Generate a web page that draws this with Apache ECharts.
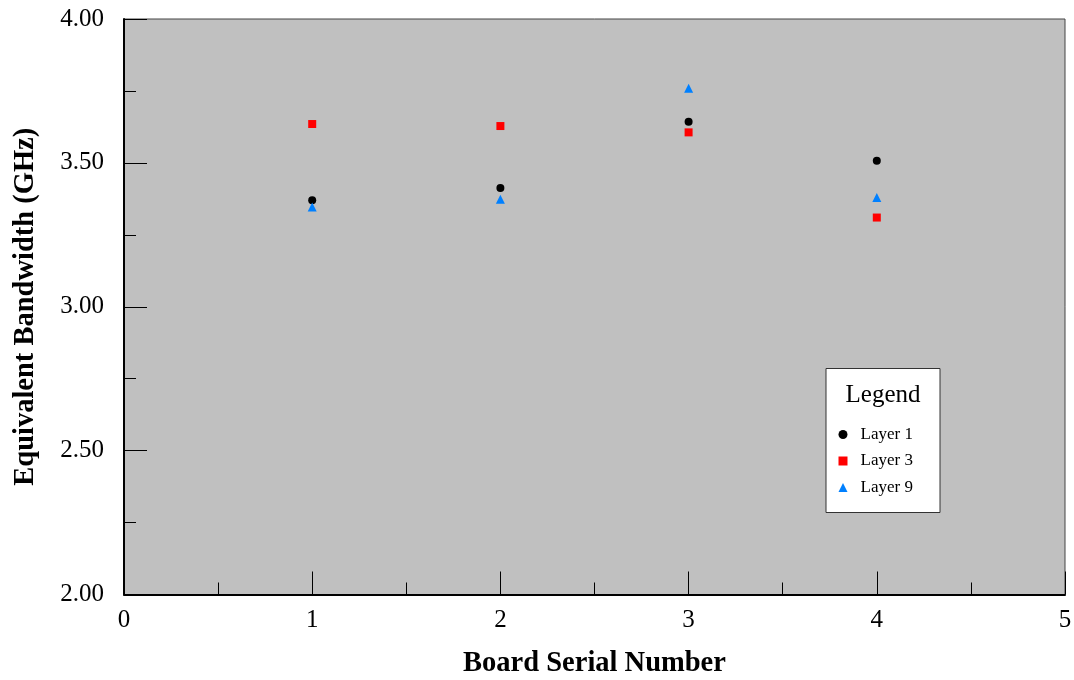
<!DOCTYPE html>
<html>
<head>
<meta charset="utf-8">
<script src="https://cdn.jsdelivr.net/npm/echarts@6/dist/echarts.min.js"></script>
<style>html,body{margin:0;padding:0;background:#fff;}#c{width:1074px;height:680px;}</style>
</head>
<body>
<div id="c"></div>
<script>
const boards = [1, 2, 3, 4];
const layer1 = [3.370, 3.413, 3.643, 3.507];
const layer3 = [3.635, 3.628, 3.606, 3.310];
const layer9 = [3.347, 3.374, 3.759, 3.380];
const seriesNames = ['Layer 1', 'Layer 3', 'Layer 9'];

const font = 'Liberation Serif';
const chart = echarts.init(document.getElementById('c'));
const pts = arr => boards.map((b, i) => [b, arr[i]]);

chart.setOption({
  animation: false,
  backgroundColor: '#ffffff',
  grid: {
    left: 124, right: 9, top: 19, bottom: 85.5,
    outerBoundsMode: 'none', containLabel: false,
    show: true, backgroundColor: '#c0c0c0', borderColor: '#444', borderWidth: 1
  },
  xAxis: {
    type: 'value', min: 0, max: 5, interval: 1,
    name: 'Board Serial Number', nameLocation: 'middle', nameGap: 55,
    nameTextStyle: { fontFamily: font, fontWeight: 'bold', fontSize: 28.5, color: '#000' },
    axisLine: { show: true, lineStyle: { color: '#000', width: 2 } },
    axisTick: { show: true, inside: true, length: 23, lineStyle: { color: '#000', width: 1 } },
    minorTick: { show: true, splitNumber: 2, length: 12, lineStyle: { color: '#000', width: 1 } },
    axisLabel: { fontFamily: font, fontSize: 25, color: '#000', margin: 13 },
    splitLine: { show: false }
  },
  yAxis: {
    type: 'value', min: 2, max: 4, interval: 0.5,
    name: 'Equivalent Bandwidth (GHz)', nameLocation: 'middle', nameGap: 84,
    nameTextStyle: { fontFamily: font, fontWeight: 'bold', fontSize: 28.5, color: '#000' },
    axisLine: { show: true, lineStyle: { color: '#000', width: 2 } },
    axisTick: { show: true, inside: true, length: 23, lineStyle: { color: '#000', width: 1 } },
    minorTick: { show: true, splitNumber: 2, length: 12, lineStyle: { color: '#000', width: 1 } },
    axisLabel: { fontFamily: font, fontSize: 25, color: '#000', margin: 20, padding: [4, 0, 0, 0],
      formatter: v => v.toFixed(2) },
    splitLine: { show: false }
  },
  legend: {
    orient: 'vertical', left: 838.5, top: 426, padding: 0,
    itemWidth: 9, itemHeight: 9, itemGap: 9.5,
    data: [
      { name: seriesNames[0], icon: 'circle' },
      { name: seriesNames[1], icon: 'rect' },
      { name: seriesNames[2], icon: 'triangle' }
    ],
    textStyle: { fontFamily: font, fontSize: 17, color: '#000', lineHeight: 17, padding: [0, 0, 0, 8] },
    z: 5
  },
  graphic: [
    { type: 'rect', z: 3, shape: { x: 826, y: 368.5, width: 114, height: 144 },
      style: { fill: '#fff', stroke: '#333', lineWidth: 1 } },
    { type: 'text', z: 4, x: 883, y: 395,
      style: { text: 'Legend', fontFamily: font, fontSize: 25, fill: '#000', align: 'center', verticalAlign: 'middle' } }
  ],
  series: [
    { name: seriesNames[0], type: 'scatter', symbol: 'circle', symbolSize: 8,
      itemStyle: { color: '#000000', opacity: 1 }, data: pts(layer1) },
    { name: seriesNames[1], type: 'scatter', symbol: 'rect', symbolSize: 8,
      itemStyle: { color: '#ff0000', opacity: 1 }, data: pts(layer3) },
    { name: seriesNames[2], type: 'scatter', symbol: 'triangle', symbolSize: 9,
      itemStyle: { color: '#0080ff', opacity: 1 }, data: pts(layer9) }
  ]
});
</script>
</body>
</html>
